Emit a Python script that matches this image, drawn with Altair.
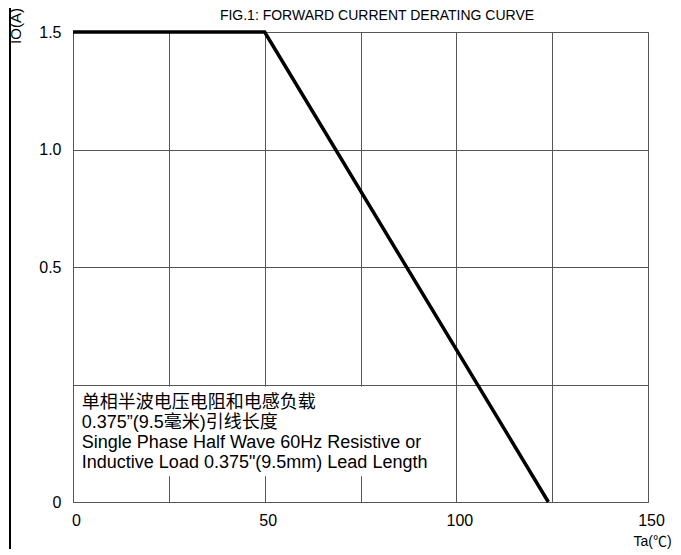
import altair as alt
import pandas as pd

# ---- data ----
temps = [0, 50, 124]
currents = [1.5, 1.5, 0.0]
x_ticks = [0, 25, 50, 75, 100, 125, 150]
y_ticks = [0, 0.25, 0.5, 1.0, 1.5]
y_domain = [0, 0.5, 1.0, 1.5]
note_lines = [
    "单相半波电压电阻和电感负载",
    "0.375”(9.5毫米)引线长度",
    "Single Phase Half Wave 60Hz Resistive or",
    "Inductive Load 0.375\"(9.5mm) Lead Length",
]
title_text = "FIG.1: FORWARD CURRENT  DERATING CURVE"
x_title = "Ta(℃)"
y_title = "IO(A)"

W, H = 575, 470
FONT = "Liberation Sans, Arial, Noto Sans CJK SC"

curve = pd.DataFrame({"t": temps, "io": currents})

xs = alt.Scale(domain=[0, 150], nice=False, zero=False)
ys = alt.Scale(domain=y_domain, range=[H, H / 2, H / 4, 0], nice=False, zero=False)

x_axis = alt.Axis(
    values=x_ticks, grid=True, gridColor="#555", gridWidth=1, ticks=False,
    domain=False, labelFont=FONT, labelFontSize=16, labelColor="black",
    labelPadding=10, labelOffset=3,
    labelExpr="datum.value % 50 == 0 ? datum.label : ''",
    title=x_title, titleFont=FONT, titleFontSize=14, titleFontWeight="normal",
    titleColor="black", titleX=579, titleY=39, titleAlign="center",
    titleBaseline="middle", labelFlush=False, labelOverlap=False,
)
y_axis = alt.Axis(
    values=y_ticks, grid=True, gridColor="#555", gridWidth=1, ticks=False,
    domain=False, labelFont=FONT, labelFontSize=16, labelColor="black",
    labelPadding=12,
    labelExpr="datum.value == 0.25 ? '' : (datum.value == 0 ? '0' : format(datum.value, '.1f'))",
    title=None, labelFlush=False, labelOverlap=False,
)

base = alt.Chart(curve)

line = base.mark_line(color="black", strokeWidth=3.5, strokeCap="butt", clip=False).encode(
    x=alt.X("t:Q", scale=xs, axis=x_axis),
    y=alt.Y("io:Q", scale=ys, axis=y_axis),
)

note_box = alt.Chart(pd.DataFrame({"x": [0.4], "x2": [97], "y": [0.055], "y2": [0.246]})).mark_rect(
    color="white"
).encode(x=alt.X("x:Q", scale=xs), x2="x2", y=alt.Y("y:Q", scale=ys), y2="y2")

note = alt.Chart(pd.DataFrame({"x": [2.3], "y": [0.211], "txt": ["\n".join(note_lines)]})).mark_text(
    align="left", baseline="middle", lineBreak="\n", lineHeight=20, font=FONT,
    fontSize=18, color="black"
).encode(x=alt.X("x:Q", scale=xs), y=alt.Y("y:Q", scale=ys), text="txt:N")

title = alt.Chart(pd.DataFrame({"txt": [title_text]})).mark_text(
    align="center", baseline="alphabetic", font=FONT, fontSize=14, color="black"
).encode(x=alt.value(304), y=alt.value(-12), text="txt:N")

ytitle = alt.Chart(pd.DataFrame({"txt": [y_title]})).mark_text(
    align="center", baseline="middle", angle=270, font=FONT, fontSize=15, color="black"
).encode(x=alt.value(-57), y=alt.value(-6), text="txt:N")

border = alt.Chart(pd.DataFrame({"a": [0]})).mark_rule(color="black", strokeWidth=2).encode(
    x=alt.value(-63), y=alt.value(-24), y2=alt.value(H + 47)
)

chart = (
    alt.layer(note_box, line, note, title, ytitle, border)
    .properties(
        width=W, height=H,
        autosize=alt.AutoSizeParams(type="none"),
        padding={"left": 65, "top": 24, "right": 25, "bottom": 47},
        background="white",
    )
    .configure_view(stroke="#777", strokeWidth=1)
)

chart.save("out.html", embed_options={"renderer": "svg", "actions": False})
